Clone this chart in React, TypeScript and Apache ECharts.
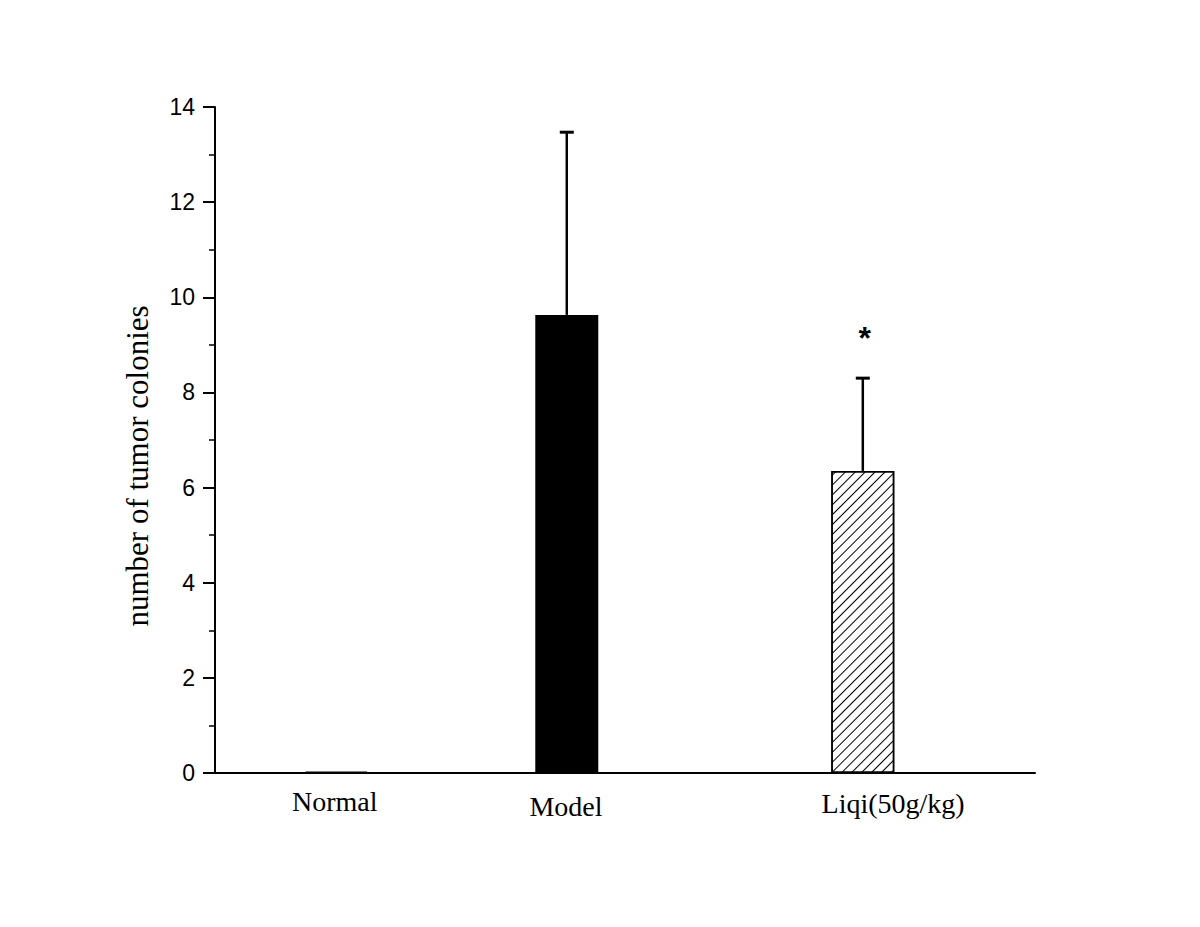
import React, { useEffect, useRef } from "react";
import * as echarts from "echarts";

const categories = ["Normal", "Model", "Liqi(50g/kg)"];
const barPositions = [1.48, 4.29, 7.9];
const labelPositions = [1.46, 4.28, 8.27];
const means = [0.03, 9.63, 6.35];
const errors = [0, 3.84, 1.95];
const significance = ["", "", "*"];
const yTicks = [0, 14, 2];

export default function App() {
  const ref = useRef<HTMLDivElement>(null);
  useEffect(() => {
    const chart = echarts.init(ref.current!, null, { renderer: "svg" });
    const hatch = {
      symbol: "rect",
      symbolSize: 1,
      dashArrayX: [1, 0],
      dashArrayY: [1, 6],
      rotation: -Math.PI / 4,
      color: "#000",
    };
    chart.setOption({
      animation: false,
      backgroundColor: "#fff",
      grid: { left: 215, right: 165, top: 107, bottom: 154 },
      xAxis: {
        type: "value",
        min: 0,
        max: 10,
        axisLine: { show: true, onZero: false, lineStyle: { color: "#000", width: 2 } },
        axisTick: { show: false },
        axisLabel: { show: false },
        splitLine: { show: false },
      },
      yAxis: {
        type: "value",
        min: yTicks[0],
        max: yTicks[1],
        interval: yTicks[2],
        name: "number of tumor colonies",
        nameLocation: "middle",
        nameGap: 62,
        nameTextStyle: { fontFamily: "Liberation Serif", fontSize: 31, color: "#000", padding: [0, 52, 0, 0] },
        axisLine: { show: true, lineStyle: { color: "#000", width: 2 } },
        axisTick: { show: true, length: 12, lineStyle: { width: 2, color: "#000" } },
        minorTick: { show: true, splitNumber: 2, length: 6, lineStyle: { width: 1.5, color: "#000" } },
        axisLabel: { margin: 20, fontFamily: "Liberation Sans", fontSize: 23, color: "#000" },
        splitLine: { show: false },
        minorSplitLine: { show: false },
      },
      series: [
        {
          type: "bar",
          barWidth: 63,
          data: categories.map((c, i) => ({
            name: c,
            value: [barPositions[i], means[i]],
            itemStyle:
              i === 2
                ? { color: "#fff", borderColor: "#000", borderWidth: 1.5, decal: hatch }
                : { color: "#000", borderColor: "#000", borderWidth: 1.5 },
          })),
        },
        {
          type: "custom",
          data: categories.map((c, i) => [barPositions[i], means[i], errors[i], i]),
          renderItem: (params: any, api: any) => {
            const x = api.value(0);
            const y = api.value(1);
            const e = api.value(2);
            const idx = api.value(3);
            const children: any[] = [];
            const base = api.coord([x, y]);
            const top = api.coord([x, y + e]);
            if (e > 0) {
              children.push(
                { type: "line", shape: { x1: base[0], y1: base[1], x2: top[0], y2: top[1] }, style: { stroke: "#000", lineWidth: 2.5 } },
                { type: "line", shape: { x1: top[0] - 7, y1: top[1], x2: top[0] + 7, y2: top[1] }, style: { stroke: "#000", lineWidth: 3 } }
              );
            }
            const sig = significance[idx];
            if (sig) {
              children.push({
                type: "text",
                x: top[0] + 2,
                y: top[1] - 40,
                style: { text: sig, fontFamily: "Liberation Sans", fontSize: 32, fontWeight: "bold", fill: "#000", align: "center", verticalAlign: "middle" },
              });
            }
            return { type: "group", children };
          },
          z: 5,
        },
        {
          type: "custom",
          data: categories.map((c, i) => [labelPositions[i], 0, i]),
          renderItem: (params: any, api: any) => {
            const p = api.coord([api.value(0), api.value(1)]);
            const idx = api.value(2);
            const offs = [28, 33, 30];
            return {
              type: "text",
              x: p[0],
              y: p[1] + offs[idx],
              style: { text: categories[idx], fontFamily: "Liberation Serif", fontSize: 28, fill: "#000", align: "center", verticalAlign: "middle" },
            };
          },
        },
      ],
    });
    return () => chart.dispose();
  }, []);
  return <div ref={ref} style={{ position: "fixed", left: 0, top: 0, width: 1200, height: 927 }} />;
}
